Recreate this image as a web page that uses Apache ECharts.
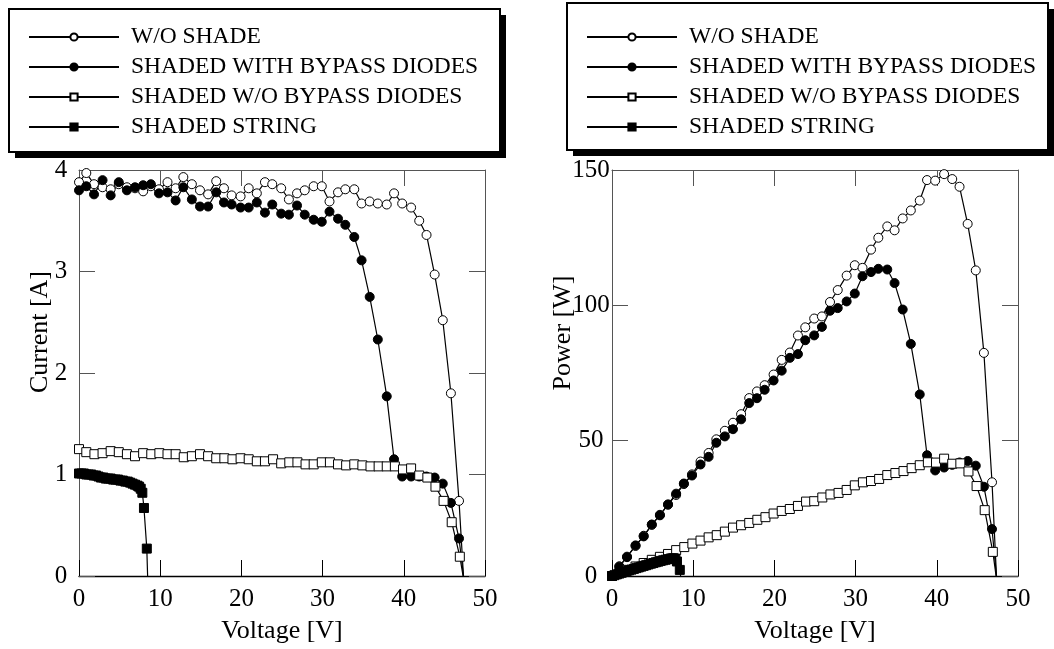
<!DOCTYPE html>
<html>
<head>
<meta charset="utf-8">
<script src="https://cdn.jsdelivr.net/npm/echarts@6/dist/echarts.min.js"></script>
<style>
html,body{margin:0;padding:0;background:#fff;}
#chart{width:1054px;height:649px;}
</style>
</head>
<body>
<div id="chart"></div>
<script>
// ---------------- data ----------------
const seriesNames = ['W/O SHADE', 'SHADED WITH BYPASS DIODES', 'SHADED W/O BYPASS DIODES', 'SHADED STRING'];
const xTicks = [0, 10, 20, 30, 40, 50];
const currentTicks = [0, 1, 2, 3, 4];
const powerTicks = [0, 50, 100, 150];

// voltage of the circle-marker measurements [V]
const voltsCircle = [0, 0.9, 1.85, 2.9, 3.9, 4.9, 5.9, 6.9, 7.9, 8.85, 9.85, 10.9, 11.9, 12.85, 13.9, 14.9, 15.9, 16.9, 17.85, 18.8, 19.9, 20.9, 21.9, 22.9, 23.8, 24.9, 25.85, 26.85, 27.8, 28.9, 29.9, 30.85, 31.9, 32.8, 33.9, 34.8, 35.8, 36.8, 37.9, 38.8, 39.8, 40.9, 41.9, 42.8, 43.8, 44.8, 45.8, 46.8, 47.35];
const currentNoShade = [3.88, 3.97, 3.86, 3.83, 3.81, 3.86, 3.83, 3.82, 3.79, 3.84, 3.81, 3.88, 3.82, 3.93, 3.86, 3.80, 3.76, 3.89, 3.82, 3.75, 3.74, 3.82, 3.77, 3.88, 3.86, 3.82, 3.71, 3.77, 3.80, 3.84, 3.84, 3.69, 3.78, 3.81, 3.81, 3.67, 3.69, 3.67, 3.66, 3.77, 3.67, 3.63, 3.50, 3.36, 2.97, 2.52, 1.80, 0.74, 0];
const currentBypass = [3.80, 3.84, 3.76, 3.90, 3.75, 3.88, 3.80, 3.83, 3.85, 3.86, 3.77, 3.78, 3.70, 3.83, 3.71, 3.64, 3.64, 3.78, 3.68, 3.66, 3.63, 3.63, 3.68, 3.58, 3.66, 3.57, 3.56, 3.65, 3.56, 3.51, 3.49, 3.59, 3.52, 3.46, 3.34, 3.11, 2.75, 2.33, 1.77, 1.15, 0.98, 0.98, 0.98, 0.98, 0.97, 0.91, 0.72, 0.37, 0];
const powerNoShade = [0, 3.57, 7.14, 11.11, 14.86, 18.91, 22.60, 26.36, 29.94, 33.98, 37.53, 42.29, 45.46, 50.50, 53.65, 56.62, 59.78, 65.74, 68.19, 70.50, 74.43, 79.84, 82.56, 88.85, 91.87, 95.12, 95.90, 101.22, 105.64, 110.98, 114.82, 113.84, 120.58, 124.97, 129.16, 127.72, 132.10, 135.06, 138.71, 146.28, 146.07, 148.47, 146.65, 143.81, 130.09, 112.90, 82.44, 34.63, 0];
const powerBypass = [0, 3.46, 6.96, 11.31, 14.63, 19.01, 22.42, 26.43, 30.42, 34.16, 37.13, 41.20, 44.03, 49.22, 51.57, 54.24, 57.88, 63.88, 65.69, 68.81, 72.24, 75.87, 80.59, 81.98, 87.11, 88.89, 92.03, 98.00, 98.97, 101.44, 104.35, 110.75, 112.29, 113.49, 113.23, 108.23, 98.45, 85.74, 67.08, 44.62, 39.00, 40.08, 41.06, 41.94, 42.49, 40.77, 32.98, 17.32, 0];

// voltage of the open-square measurements [V]
const voltsSquare = [0, 0.9, 1.9, 2.9, 3.9, 4.9, 5.9, 6.9, 7.9, 8.9, 9.9, 10.9, 11.9, 12.9, 13.9, 14.9, 15.9, 16.9, 17.9, 18.9, 19.9, 20.9, 21.9, 22.9, 23.9, 24.9, 25.9, 26.9, 27.9, 28.9, 29.9, 30.9, 31.9, 32.9, 33.9, 34.9, 35.9, 36.9, 37.9, 38.9, 39.9, 40.9, 41.9, 42.9, 43.9, 44.9, 45.9, 46.9, 47.3];
const currentNoBypass = [1.25, 1.22, 1.20, 1.21, 1.23, 1.22, 1.20, 1.18, 1.21, 1.20, 1.21, 1.20, 1.20, 1.17, 1.18, 1.20, 1.18, 1.16, 1.16, 1.15, 1.16, 1.15, 1.13, 1.13, 1.15, 1.11, 1.12, 1.12, 1.10, 1.10, 1.12, 1.12, 1.10, 1.09, 1.10, 1.09, 1.08, 1.08, 1.08, 1.08, 1.05, 1.06, 0.99, 0.97, 0.88, 0.74, 0.53, 0.19, 0];
const powerNoBypass = [0, 1.10, 2.28, 3.51, 4.80, 5.98, 7.08, 8.14, 9.56, 10.68, 11.98, 13.08, 14.28, 15.09, 16.40, 17.88, 18.76, 19.60, 20.76, 21.74, 23.08, 24.04, 24.75, 25.88, 27.49, 27.64, 29.01, 30.13, 30.69, 31.79, 33.49, 34.61, 35.09, 35.86, 37.29, 38.04, 38.77, 39.85, 40.93, 42.01, 41.90, 43.35, 41.48, 41.61, 38.63, 33.23, 24.33, 8.91, 0];

// shaded string [V]
const voltsString = [0, 0.3, 0.6, 0.9, 1.2, 1.5, 1.8, 2.1, 2.4, 2.7, 3.0, 3.3, 3.6, 3.9, 4.2, 4.5, 4.8, 5.1, 5.4, 5.7, 6.0, 6.3, 6.6, 6.9, 7.2, 7.4, 7.6, 7.8, 8.0, 8.35, 8.45];
const currentString = [1.01, 1.01, 1.01, 1.00, 1.00, 1.00, 0.99, 0.99, 0.98, 0.97, 0.97, 0.96, 0.96, 0.96, 0.95, 0.95, 0.95, 0.94, 0.94, 0.93, 0.93, 0.92, 0.91, 0.90, 0.89, 0.88, 0.86, 0.82, 0.67, 0.27, 0];
const powerString = [0, 0.30, 0.61, 0.90, 1.20, 1.50, 1.78, 2.08, 2.35, 2.62, 2.91, 3.17, 3.46, 3.74, 3.99, 4.28, 4.56, 4.79, 5.08, 5.30, 5.58, 5.80, 6.01, 6.21, 6.41, 6.51, 6.54, 6.40, 5.36, 2.25, 0];

// ---------------- chart ----------------
const FONT = '"Liberation Serif", "Times New Roman", Times, serif';

function pts(xs, ys) {
  return xs.map(function (x, i) {
    if (i === xs.length - 1 && ys[i] === 0) return { value: [x, ys[i]], symbol: 'none' };
    return [x, ys[i]];
  });
}

const styles = [
  { symbol: 'circle', symbolSize: 9, itemStyle: { color: '#fff', borderColor: '#000', borderWidth: 1 } },
  { symbol: 'circle', symbolSize: 9, itemStyle: { color: '#000', borderColor: '#000', borderWidth: 1 } },
  { symbol: 'rect', symbolSize: 9, itemStyle: { color: '#fff', borderColor: '#000', borderWidth: 1 } },
  { symbol: 'rect', symbolSize: 9, itemStyle: { color: '#000', borderColor: '#000', borderWidth: 1 } }
];

function mkSeries(idx, axisIdx, data) {
  return Object.assign({
    name: seriesNames[idx],
    type: 'line',
    xAxisIndex: axisIdx,
    yAxisIndex: axisIdx,
    data: data,
    showAllSymbol: true,
    clip: false,
    lineStyle: { color: '#000', width: 1.2 },
    emphasis: { disabled: true },
    animation: false
  }, styles[idx]);
}

function xAxisDef(grid, pos) {
  const bottom = pos === 'bottom';
  return {
    type: 'value', gridIndex: grid, position: pos,
    min: xTicks[0], max: xTicks[xTicks.length - 1], interval: xTicks[1] - xTicks[0],
    axisLine: { show: true, onZero: false, lineStyle: { color: bottom ? '#000' : '#555', width: bottom ? 1.3 : 1 } },
    axisTick: { show: true, inside: true, length: 16, lineStyle: { color: bottom ? '#000' : '#555', width: 1 } },
    axisLabel: { show: bottom, margin: 11, fontSize: 25, fontFamily: FONT, color: '#000' },
    splitLine: { show: false },
    name: bottom ? 'Voltage [V]' : '',
    nameLocation: 'middle', nameGap: 42,
    nameTextStyle: { fontSize: 26, fontFamily: FONT, color: '#000' }
  };
}

function yAxisDef(grid, pos, ticks, margin) {
  const left = pos === 'left';
  return {
    type: 'value', gridIndex: grid, position: pos,
    min: ticks[0], max: ticks[ticks.length - 1], interval: ticks[1] - ticks[0],
    axisLine: { show: true, onZero: false, lineStyle: { color: '#555', width: 1 } },
    axisTick: { show: true, inside: true, length: 16, lineStyle: { color: '#555', width: 1 } },
    axisLabel: { show: left, margin: margin, align: 'center', fontSize: 25, fontFamily: FONT, color: '#000' },
    splitLine: { show: false }
  };
}

function legendDef(left, top) {
  return {
    show: true,
    orient: 'vertical',
    left: left, top: top,
    data: seriesNames,
    selectedMode: false,
    itemWidth: 90, itemHeight: 9, itemGap: 6,
    padding: 0,
    lineStyle: { width: 2, color: '#000' },
    textStyle: { fontSize: 23.5, fontFamily: FONT, color: '#000', lineHeight: 24, padding: [0, 0, 0, 7] }
  };
}

function boxRects(x, y, w, h) {
  return [
    { type: 'rect', z: 0, shape: { x: x + 6, y: y + 6, width: w, height: h }, style: { fill: '#000' } },
    { type: 'rect', z: 1, shape: { x: x, y: y, width: w, height: h }, style: { fill: '#fff', stroke: '#000', lineWidth: 2 } }
  ];
}

const chart = echarts.init(document.getElementById('chart'), null, { renderer: 'canvas' });
chart.setOption({
  animation: false,
  backgroundColor: '#fff',
  legend: [
    legendDef(28, 25),
    legendDef(586, 25)
  ],
  grid: [
    { left: 79, right: 569, top: 170, bottom: 69, containLabel: false },
    { left: 612, right: 36, top: 170, bottom: 69, containLabel: false }
  ],
  xAxis: [
    xAxisDef(0, 'bottom'), xAxisDef(0, 'top'),
    xAxisDef(1, 'bottom'), xAxisDef(1, 'top')
  ],
  yAxis: [
    yAxisDef(0, 'left', currentTicks, 18), yAxisDef(0, 'right', currentTicks, 18),
    yAxisDef(1, 'left', powerTicks, 21), yAxisDef(1, 'right', powerTicks, 21)
  ],
  graphic: [].concat(
    boxRects(9, 9, 491, 143),
    boxRects(567, 3, 481, 147),
    [
      { type: 'text', x: 40, y: 332, rotation: Math.PI / 2, z: 2,
        style: { text: 'Current [A]', fontSize: 26, fontFamily: FONT, fill: '#000', align: 'center', verticalAlign: 'middle', textAlign: 'center', textVerticalAlign: 'middle' } },
      { type: 'text', x: 563, y: 333, rotation: Math.PI / 2, z: 2,
        style: { text: 'Power [W]', fontSize: 26, fontFamily: FONT, fill: '#000', align: 'center', verticalAlign: 'middle', textAlign: 'center', textVerticalAlign: 'middle' } }
    ]
  ),
  series: [
    mkSeries(0, 0, pts(voltsCircle, currentNoShade)),
    mkSeries(1, 0, pts(voltsCircle, currentBypass)),
    mkSeries(2, 0, pts(voltsSquare, currentNoBypass)),
    mkSeries(3, 0, pts(voltsString, currentString)),
    mkSeries(0, 2, pts(voltsCircle, powerNoShade)),
    mkSeries(1, 2, pts(voltsCircle, powerBypass)),
    mkSeries(2, 2, pts(voltsSquare, powerNoBypass)),
    mkSeries(3, 2, pts(voltsString, powerString))
  ]
});
</script>
</body>
</html>
